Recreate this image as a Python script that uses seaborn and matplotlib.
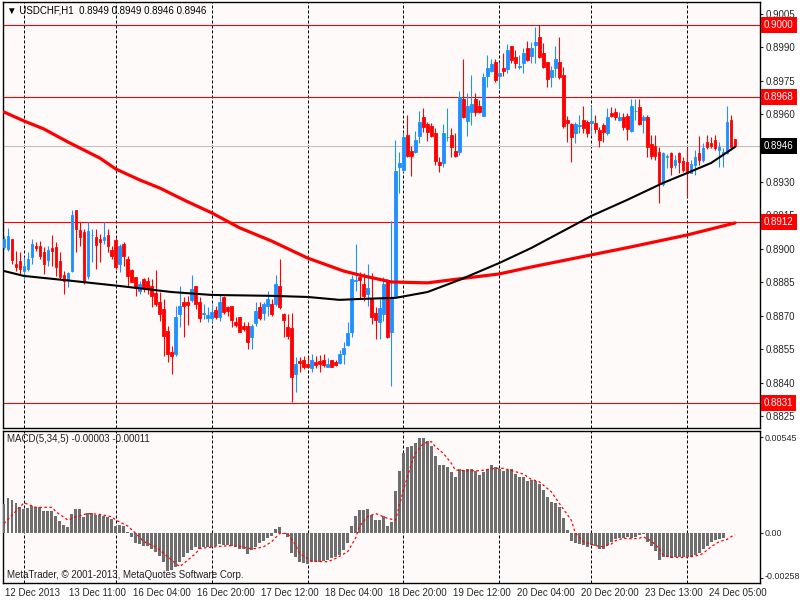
import numpy as np
import pandas as pd
import matplotlib
matplotlib.use('Agg')
import matplotlib.pyplot as plt
import matplotlib.transforms as mtransforms
import seaborn as sns

# H1 candles, bar 0 = 12 Dec 19:00 ... bar 183 = 24 Dec 12:00
opens = [
    0.89006, 0.88999, 0.89043, 0.88931, 0.88946, 0.88902, 0.88909, 0.88961, 0.89013, 0.89013,
    0.88987, 0.88951, 0.89001, 0.89006, 0.88946, 0.88882, 0.88864, 0.88902, 0.89173, 0.89083,
    0.89073, 0.88879, 0.89060, 0.89051, 0.89043, 0.89039, 0.89061, 0.88994, 0.89040, 0.88931,
    0.89021, 0.88954, 0.88905, 0.88872, 0.88812, 0.88864, 0.88857, 0.88832, 0.88802, 0.88760,
    0.88730, 0.88632, 0.88537, 0.88529, 0.88708, 0.88760, 0.88760, 0.88772, 0.88832, 0.88760,
    0.88708, 0.88690, 0.88692, 0.88726, 0.88693, 0.88782, 0.88738, 0.88742, 0.88674, 0.88693,
    0.88656, 0.88656, 0.88604, 0.88668, 0.88741, 0.88712, 0.88745, 0.88753, 0.88753, 0.88832,
    0.88708, 0.88648, 0.88644, 0.88440, 0.88499, 0.88502, 0.88484, 0.88465, 0.88495, 0.88499,
    0.88504, 0.88472, 0.88502, 0.88495, 0.88489, 0.88529, 0.88569, 0.88629, 0.88857, 0.88875,
    0.88842, 0.88797, 0.88775, 0.88712, 0.88671, 0.88708, 0.88850, 0.88629, 0.88790, 0.89367,
    0.89352, 0.89509, 0.89437, 0.89434, 0.89504, 0.89590, 0.89558, 0.89549, 0.89519, 0.89389,
    0.89385, 0.89500, 0.89509, 0.89437, 0.89434, 0.89669, 0.89573, 0.89613, 0.89669, 0.89638,
    0.89595, 0.89772, 0.89796, 0.89833, 0.89772, 0.89807, 0.89802, 0.89906, 0.89859, 0.89814,
    0.89832, 0.89899, 0.89862, 0.89911, 0.89948, 0.89877, 0.89836, 0.89766, 0.89807, 0.89836,
    0.89777, 0.89576, 0.89558, 0.89519, 0.89549, 0.89576, 0.89565, 0.89561, 0.89564, 0.89531,
    0.89553, 0.89516, 0.89608, 0.89613, 0.89576, 0.89590, 0.89593, 0.89527, 0.89616, 0.89635,
    0.89576, 0.89588, 0.89468, 0.89459, 0.89434, 0.89290, 0.89412, 0.89427, 0.89374, 0.89427,
    0.89394, 0.89389, 0.89340, 0.89374, 0.89427, 0.89397, 0.89479, 0.89474, 0.89486, 0.89442,
    0.89427, 0.89427, 0.89576, 0.89490]

highs = [
    0.89058, 0.89091, 0.89043, 0.88991, 0.88984, 0.88961, 0.88984, 0.89043, 0.89028, 0.89036,
    0.89006, 0.89013, 0.89061, 0.89028, 0.88984, 0.88902, 0.88897, 0.89173, 0.89173, 0.89118,
    0.89088, 0.89118, 0.89088, 0.89088, 0.89066, 0.89118, 0.89088, 0.89013, 0.89046, 0.89021,
    0.89028, 0.88969, 0.88909, 0.88875, 0.88857, 0.88867, 0.88872, 0.88864, 0.88906, 0.88805,
    0.88775, 0.88656, 0.88566, 0.88745, 0.88832, 0.88782, 0.88790, 0.88882, 0.88832, 0.88782,
    0.88753, 0.88738, 0.88753, 0.88745, 0.88797, 0.88790, 0.88745, 0.88745, 0.88693, 0.88693,
    0.88671, 0.88671, 0.88663, 0.88760, 0.88760, 0.88763, 0.88812, 0.88775, 0.88882, 0.88954,
    0.88712, 0.88708, 0.88711, 0.88514, 0.88514, 0.88522, 0.88514, 0.88529, 0.88522, 0.88525,
    0.88529, 0.88513, 0.88502, 0.88504, 0.88547, 0.88584, 0.88671, 0.88882, 0.89021, 0.88897,
    0.88891, 0.88931, 0.88891, 0.88738, 0.88775, 0.88872, 0.88864, 0.89125, 0.89486, 0.89430,
    0.89523, 0.89598, 0.89461, 0.89527, 0.89616, 0.89628, 0.89568, 0.89564, 0.89538, 0.89412,
    0.89558, 0.89631, 0.89538, 0.89519, 0.89707, 0.89848, 0.89695, 0.89777, 0.89695, 0.89665,
    0.89787, 0.89866, 0.89847, 0.89847, 0.89836, 0.89877, 0.89915, 0.89906, 0.89889, 0.89866,
    0.89896, 0.89929, 0.89926, 0.89993, 0.90000, 0.89918, 0.89836, 0.89817, 0.89906, 0.89948,
    0.89814, 0.89593, 0.89561, 0.89568, 0.89598, 0.89638, 0.89576, 0.89638, 0.89598, 0.89546,
    0.89561, 0.89628, 0.89635, 0.89628, 0.89613, 0.89605, 0.89605, 0.89668, 0.89668, 0.89668,
    0.89598, 0.89598, 0.89509, 0.89509, 0.89456, 0.89434, 0.89424, 0.89434, 0.89419, 0.89434,
    0.89412, 0.89449, 0.89397, 0.89439, 0.89504, 0.89471, 0.89509, 0.89498, 0.89509, 0.89479,
    0.89449, 0.89638, 0.89598, 0.89490]

lows = [
    0.88999, 0.88991, 0.88931, 0.88902, 0.88887, 0.88864, 0.88902, 0.88931, 0.88991, 0.88954,
    0.88887, 0.88924, 0.88924, 0.88879, 0.88864, 0.88797, 0.88830, 0.88894, 0.88984, 0.89013,
    0.88842, 0.88864, 0.88939, 0.88909, 0.88939, 0.89021, 0.88984, 0.88954, 0.88909, 0.88894,
    0.88924, 0.88835, 0.88850, 0.88790, 0.88797, 0.88805, 0.88797, 0.88741, 0.88745, 0.88678,
    0.88522, 0.88492, 0.88440, 0.88522, 0.88648, 0.88604, 0.88659, 0.88760, 0.88730, 0.88671,
    0.88686, 0.88671, 0.88671, 0.88686, 0.88678, 0.88708, 0.88701, 0.88648, 0.88648, 0.88626,
    0.88633, 0.88552, 0.88552, 0.88656, 0.88683, 0.88683, 0.88701, 0.88701, 0.88745, 0.88730,
    0.88604, 0.88596, 0.88316, 0.88361, 0.88450, 0.88462, 0.88465, 0.88450, 0.88465, 0.88450,
    0.88469, 0.88472, 0.88472, 0.88477, 0.88484, 0.88484, 0.88566, 0.88604, 0.88812, 0.88775,
    0.88768, 0.88742, 0.88663, 0.88596, 0.88596, 0.88678, 0.88599, 0.88385, 0.88785, 0.89248,
    0.89345, 0.89412, 0.89325, 0.89427, 0.89474, 0.89523, 0.89483, 0.89498, 0.89374, 0.89345,
    0.89367, 0.89483, 0.89412, 0.89409, 0.89419, 0.89583, 0.89504, 0.89553, 0.89593, 0.89608,
    0.89595, 0.89725, 0.89792, 0.89747, 0.89717, 0.89772, 0.89784, 0.89829, 0.89807, 0.89804,
    0.89784, 0.89841, 0.89832, 0.89829, 0.89851, 0.89807, 0.89725, 0.89725, 0.89766, 0.89760,
    0.89538, 0.89479, 0.89389, 0.89474, 0.89516, 0.89519, 0.89498, 0.89509, 0.89516, 0.89456,
    0.89479, 0.89509, 0.89588, 0.89576, 0.89571, 0.89531, 0.89486, 0.89523, 0.89576, 0.89553,
    0.89516, 0.89412, 0.89400, 0.89397, 0.89204, 0.89281, 0.89360, 0.89330, 0.89360, 0.89337,
    0.89345, 0.89230, 0.89337, 0.89330, 0.89374, 0.89389, 0.89444, 0.89449, 0.89442, 0.89367,
    0.89367, 0.89424, 0.89453, 0.89460]

closes = [
    0.89043, 0.89058, 0.88951, 0.88916, 0.88909, 0.88924, 0.88954, 0.89021, 0.89004, 0.88969,
    0.88931, 0.88996, 0.88991, 0.88916, 0.88872, 0.88857, 0.88891, 0.89150, 0.89088, 0.89051,
    0.88857, 0.89080, 0.89063, 0.89016, 0.89028, 0.89051, 0.89010, 0.88969, 0.88916, 0.89013,
    0.88969, 0.88879, 0.88852, 0.88823, 0.88842, 0.88823, 0.88820, 0.88790, 0.88753, 0.88708,
    0.88611, 0.88529, 0.88522, 0.88696, 0.88745, 0.88742, 0.88748, 0.88820, 0.88753, 0.88690,
    0.88712, 0.88705, 0.88715, 0.88696, 0.88760, 0.88715, 0.88723, 0.88683, 0.88659, 0.88629,
    0.88641, 0.88581, 0.88653, 0.88723, 0.88689, 0.88751, 0.88775, 0.88708, 0.88842, 0.88738,
    0.88683, 0.88611, 0.88425, 0.88484, 0.88489, 0.88472, 0.88472, 0.88502, 0.88480, 0.88484,
    0.88480, 0.88484, 0.88472, 0.88480, 0.88528, 0.88556, 0.88623, 0.88864, 0.88859, 0.88860,
    0.88790, 0.88823, 0.88693, 0.88683, 0.88733, 0.88842, 0.88604, 0.88782, 0.89348, 0.89382,
    0.89501, 0.89415, 0.89415, 0.89486, 0.89568, 0.89546, 0.89523, 0.89504, 0.89394, 0.89374,
    0.89519, 0.89501, 0.89456, 0.89415, 0.89677, 0.89588, 0.89638, 0.89647, 0.89613, 0.89613,
    0.89766, 0.89807, 0.89826, 0.89754, 0.89787, 0.89796, 0.89889, 0.89844, 0.89832, 0.89815,
    0.89877, 0.89844, 0.89896, 0.89926, 0.89856, 0.89814, 0.89757, 0.89799, 0.89847, 0.89766,
    0.89549, 0.89561, 0.89498, 0.89556, 0.89553, 0.89538, 0.89516, 0.89573, 0.89534, 0.89486,
    0.89523, 0.89588, 0.89593, 0.89590, 0.89588, 0.89543, 0.89534, 0.89638, 0.89617, 0.89558,
    0.89590, 0.89456, 0.89415, 0.89415, 0.89293, 0.89427, 0.89413, 0.89367, 0.89397, 0.89389,
    0.89352, 0.89337, 0.89379, 0.89412, 0.89397, 0.89449, 0.89456, 0.89459, 0.89449, 0.89456,
    0.89434, 0.89568, 0.89456, 0.89460]

# moving averages (bar index, price)
ma_red_bars = [0, 5, 10, 16, 24, 28, 34, 39, 45, 52, 59, 67, 76, 85, 89, 97, 106, 114,
               124, 132, 147, 157, 171, 183]
ma_red_vals = [0.89611, 0.89571, 0.89535, 0.89477, 0.89405, 0.89356, 0.89307, 0.89271,
               0.89218, 0.89160, 0.89093, 0.89034, 0.88958, 0.88900, 0.88882, 0.88851,
               0.88847, 0.88865, 0.88887, 0.88918, 0.88972, 0.89008, 0.89061, 0.89115]
ma_black_bars = [0, 5, 17, 29, 42, 52, 67, 76, 84, 89, 98, 106, 114, 124, 132, 147, 156,
                 165, 171, 177, 183]
ma_black_vals = [0.88900, 0.88878, 0.88856, 0.88833, 0.88806, 0.88793, 0.88789, 0.88784,
                 0.88771, 0.88775, 0.88780, 0.88806, 0.88860, 0.88936, 0.89003, 0.89146,
                 0.89218, 0.89294, 0.89338, 0.89383, 0.89455]

# MACD(5,34,5) histogram, one value per bar
macd_hist = [
    0.00164, 0.00200, 0.00187, 0.00171, 0.00145, 0.00133, 0.00139, 0.00152, 0.00149, 0.00145,
    0.00126, 0.00126, 0.00126, 0.00097, 0.00069, 0.00044, 0.00030, 0.00107, 0.00133, 0.00133,
    0.00091, 0.00110, 0.00114, 0.00101, 0.00101, 0.00095, 0.00091, 0.00076, 0.00038, 0.00044,
    0.00038, 0.00006, -0.00027, -0.00057, -0.00067, -0.00076, -0.00076, -0.00090, -0.00109, -0.00133,
    -0.00166, -0.00217, -0.00210, -0.00194, -0.00166, -0.00141, -0.00118, -0.00099, -0.00084, -0.00090,
    -0.00084, -0.00084, -0.00084, -0.00076, -0.00065, -0.00070, -0.00070, -0.00076, -0.00080, -0.00095,
    -0.00095, -0.00122, -0.00099, -0.00084, -0.00061, -0.00050, -0.00030, -0.00019, 0.00019, 0.00030,
    -0.00005, -0.00027, -0.00114, -0.00141, -0.00166, -0.00175, -0.00179, -0.00166, -0.00166, -0.00166,
    -0.00160, -0.00156, -0.00147, -0.00141, -0.00128, -0.00099, -0.00057, 0.00038, 0.00095, 0.00130,
    0.00130, 0.00133, 0.00101, 0.00072, 0.00072, 0.00095, 0.00038, 0.00063, 0.00240, 0.00352,
    0.00457, 0.00491, 0.00495, 0.00511, 0.00539, 0.00539, 0.00526, 0.00495, 0.00438, 0.00387,
    0.00387, 0.00377, 0.00349, 0.00316, 0.00362, 0.00358, 0.00362, 0.00362, 0.00354, 0.00330,
    0.00349, 0.00362, 0.00387, 0.00373, 0.00362, 0.00354, 0.00358, 0.00362, 0.00335, 0.00316,
    0.00316, 0.00297, 0.00301, 0.00297, 0.00278, 0.00244, 0.00202, 0.00177, 0.00171, 0.00145,
    0.00082, 0.00015, -0.00046, -0.00057, -0.00065, -0.00070, -0.00084, -0.00070, -0.00076, -0.00093,
    -0.00090, -0.00070, -0.00051, -0.00038, -0.00032, -0.00032, -0.00027, -0.00032, -0.00023, -0.00013,
    -0.00008, -0.00051, -0.00076, -0.00103, -0.00156, -0.00141, -0.00141, -0.00147, -0.00141, -0.00141,
    -0.00141, -0.00137, -0.00137, -0.00128, -0.00118, -0.00090, -0.00076, -0.00051, -0.00042, -0.00038,
    -0.00032, -0.00004, -0.00004, -0.00003]

# signal line samples (bar index, value)
sig_bars = [0, 5, 8, 12, 13, 16, 18, 21, 24, 27, 28, 31, 33, 35, 38, 40, 43, 44, 46, 48,
            49, 53, 56, 59, 61, 63, 65, 67, 69, 71, 73, 74, 77, 81, 83, 86, 88, 89, 91, 93,
            94, 96, 98, 100, 102, 103, 105, 107, 108, 110, 112, 113, 116, 119, 123, 125, 128, 130, 132, 134,
            137, 139, 142, 143, 145, 147, 148, 150, 152, 153, 155, 157, 159, 160, 162, 164, 165, 167, 170, 172,
            174, 175, 177, 179, 181, 182, 183]
sig_vals = [0.00053, 0.00171, 0.00145, 0.00145, 0.00120, 0.00072, 0.00091, 0.00110, 0.00105, 0.00091,
            0.00072, 0.00038, -0.00004, -0.00051, -0.00080, -0.00118, -0.00175, -0.00194, -0.00156, -0.00118,
            -0.00090, -0.00080, -0.00074, -0.00076, -0.00090, -0.00090, -0.00080, -0.00051, -0.00004, -0.00004,
            -0.00070, -0.00118, -0.00162, -0.00166, -0.00147, -0.00109, -0.00032, 0.00038, 0.00091, 0.00110,
            0.00101, 0.00082, 0.00072, 0.00244, 0.00396, 0.00453, 0.00511, 0.00520, 0.00491, 0.00453,
            0.00396, 0.00358, 0.00354, 0.00354, 0.00368, 0.00368, 0.00349, 0.00335, 0.00305, 0.00291,
            0.00234, 0.00168, 0.00072, 0.00000, -0.00051, -0.00065, -0.00074, -0.00080, -0.00065, -0.00046,
            -0.00032, -0.00034, -0.00032, -0.00023, -0.00046, -0.00090, -0.00128, -0.00141, -0.00141, -0.00137,
            -0.00128, -0.00118, -0.00080, -0.00051, -0.00038, -0.00023, -0.00011]

# horizontal levels and axis texts
level_prices = [0.9000, 0.8968, 0.8912, 0.8831]
level_labels = ['0.9000', '0.8968', '0.8912', '0.8831']
bid_price = 0.8946
bid_label = '0.8946'
price_ticks = [0.8825, 0.8840, 0.8855, 0.8870, 0.8885, 0.8900, 0.8915, 0.8930,
               0.8960, 0.8975, 0.8990, 0.9005]
macd_ticks = [0.00545, 0.0, -0.00258]
macd_tick_labels = ['0.00545', '0.00', '-0.00258']
day_bars = [5, 28, 52, 76, 100, 124, 147, 171]
label_bars = [0, 16, 32, 48, 64, 80, 96, 112, 128, 144, 160, 176]
time_labels = ['12 Dec 2013', '13 Dec 11:00', '16 Dec 04:00', '16 Dec 20:00', '17 Dec 12:00',
               '18 Dec 04:00', '18 Dec 20:00', '19 Dec 12:00', '20 Dec 04:00', '20 Dec 20:00',
               '23 Dec 13:00', '24 Dec 05:00']

BULL = '#1e90ff'
BEAR = '#ff0000'
BG = '#fffafa'
FS = 7.0

sns.set_style('white')
plt.rcParams['font.family'] = ['Liberation Sans', 'DejaVu Sans']
plt.rcParams['font.size'] = FS

candles = pd.DataFrame({'open': opens, 'high': highs, 'low': lows, 'close': closes})
candles['bar'] = np.arange(len(candles))
candles['color'] = np.where(candles['close'] >= candles['open'], BULL, BEAR)
candles['body_lo'] = candles[['open', 'close']].min(axis=1)
candles['body_h'] = (candles['close'] - candles['open']).abs()

fig = plt.figure(figsize=(8, 6), dpi=100)
fig.patch.set_facecolor('white')
ax = fig.add_axes([3 / 800, 172 / 600, 757 / 800, 426 / 600])
axm = fig.add_axes([3 / 800, 17 / 600, 757 / 800, 152 / 600], sharex=ax)

for a in (ax, axm):
    a.set_facecolor(BG)
    for s in a.spines.values():
        s.set_color('black')
        s.set_linewidth(1)
    for b in day_bars:
        a.axvline(b, color='black', lw=0.72, ls=(0, (3, 2)), zorder=1)

for lv in level_prices:
    ax.axhline(lv, color='red', lw=0.8, zorder=2)
ax.axhline(bid_price, color='#c0c0c0', lw=0.8, zorder=2)

# candles
ax.vlines(candles['bar'], candles['low'], candles['high'], colors=candles['color'], lw=0.8, zorder=3)
ax.bar(candles['bar'], candles['body_h'], bottom=candles['body_lo'], width=0.68,
       color=candles['color'], edgecolor=candles['color'], linewidth=0.6, zorder=4)

sns.lineplot(x=ma_red_bars, y=ma_red_vals, ax=ax, color='red', lw=2.3, zorder=5)
sns.lineplot(x=ma_black_bars, y=ma_black_vals, ax=ax, color='black', lw=1.5, zorder=6)

# MACD panel
axm.bar(np.arange(len(macd_hist)), macd_hist, width=0.74, color='#6e6e6e', linewidth=0, zorder=3)
sns.lineplot(x=sig_bars, y=sig_vals, ax=axm, color='red', lw=0.9, linestyle=(0, (2, 2)), zorder=4)

ax.set_xlim(-0.25, 189.25)
ax.set_ylim(0.88198, 0.90103)
axm.set_ylim(-0.00287, 0.00581)
for a in (ax, axm):
    a.set_xlabel('')
    a.set_ylabel('')

ax.yaxis.tick_right()
ax.set_yticks(price_ticks)
ax.set_yticklabels([f'{v:.4f}' for v in price_ticks])
ax.tick_params(axis='x', bottom=False, labelbottom=False)
ax.tick_params(axis='y', direction='out', length=2.5, width=0.8, pad=1.5, labelsize=FS)

axm.yaxis.tick_right()
axm.set_yticks(macd_ticks)
axm.set_yticklabels(macd_tick_labels)
axm.tick_params(axis='y', direction='out', length=2.5, width=0.8, pad=1, labelsize=6.4)
up_shift = mtransforms.ScaledTranslation(0, 2.5 / 100, fig.dpi_scale_trans)
low_lbl = axm.get_yticklabels()[-1]
low_lbl.set_transform(low_lbl.get_transform() + up_shift)
axm.set_xticks(label_bars)
axm.set_xticklabels(time_labels, ha='left')
axm.tick_params(axis='x', direction='out', length=2.9, width=0.8, pad=1, labelsize=FS)
shift = mtransforms.ScaledTranslation(1.5 / 100, 0, fig.dpi_scale_trans)
for lbl in axm.get_xticklabels():
    lbl.set_transform(lbl.get_transform() + shift)

# price labels in boxes on the right scale
trans = mtransforms.blended_transform_factory(ax.transAxes, ax.transData)
for lv, txt in zip(level_prices, level_labels):
    ax.text(1.0 + 4 / 757, lv, txt, transform=trans, ha='left', va='center', color='white',
            fontsize=FS, clip_on=False, zorder=10,
            bbox=dict(boxstyle='square,pad=0.3', facecolor='red', edgecolor='none'))
ax.text(1.0 + 4 / 757, bid_price, bid_label, transform=trans, ha='left', va='center', color='white',
        fontsize=FS, clip_on=False, zorder=10,
        bbox=dict(boxstyle='square,pad=0.3', facecolor='black', edgecolor='none'))

ax.text(4 / 757, 0.9796, '\u25bc USDCHF,H1  0.8949 0.8949 0.8946 0.8946', transform=ax.transAxes,
        ha='left', va='center', color='black', fontsize=FS)
axm.text(4 / 757, 0.947, 'MACD(5,34,5) -0.00003 -0.00011', transform=axm.transAxes,
         ha='left', va='center', color='#202020', fontsize=FS)
axm.text(4 / 757, 0.053, 'MetaTrader, \u00a9 2001-2013, MetaQuotes Software Corp.', transform=axm.transAxes,
         ha='left', va='center', color='#202020', fontsize=FS)

fig.savefig('out.png', dpi=100)
plt.close(fig)
